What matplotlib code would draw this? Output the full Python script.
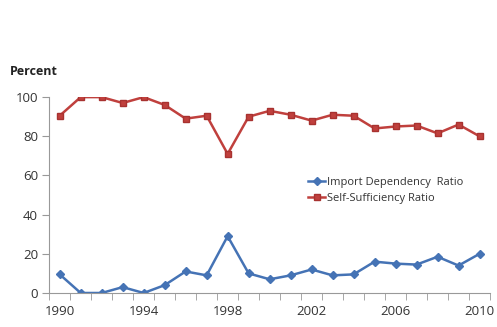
import matplotlib.pyplot as plt
import numpy as np

years = list(range(1990, 2011))
import_dependency = [9.5, 0, 0, 3, 0, 4, 11, 9, 29, 10, 7, 9, 12, 9, 9.5, 16, 15, 14.5, 18.5, 14, 20]
self_sufficiency = [90.5, 100, 100, 97, 100, 96, 89, 90.5, 71, 90, 93, 91, 88, 91, 90.5, 84, 85, 85.5, 81.5, 86, 80]
tick_years = [1990, 1994, 1998, 2002, 2006, 2010]

plt.rcParams['font.family'] = ['Open Sans', 'DejaVu Sans']

fig = plt.figure(figsize=(4.97, 3.27), dpi=100)
ax = fig.add_axes([0.099, 0.104, 0.887, 0.599])

x = np.arange(len(years))
ax.plot(x, import_dependency, color='#4573B5', marker='D', markersize=4.5, lw=1.8,
        label='Import Dependency  Ratio')
ax.plot(x, self_sufficiency, color='#C0403D', marker='s', markersize=5, lw=1.8,
        markeredgecolor='#A83230', label='Self-Sufficiency Ratio')

ax.set_xlim(-0.5, len(years) - 0.5)
ax.set_ylim(0, 100)
ax.set_yticks([0, 20, 40, 60, 80, 100])

# category labels under the points, tick marks between categories
ax.set_xticks([years.index(y) for y in tick_years])
ax.set_xticklabels([str(y) for y in tick_years])
ax.set_xticks(np.arange(-0.5, len(years)), minor=True)
ax.tick_params(axis='x', which='major', length=0, pad=9, labelsize=9.5, colors='#333333')
ax.tick_params(axis='x', which='minor', length=5, color='#999999', direction='out')
ax.tick_params(axis='y', length=5, color='#999999', labelsize=9.5, colors='#333333', pad=3)

for s in ['top', 'right']:
    ax.spines[s].set_visible(False)
for s in ['left', 'bottom']:
    ax.spines[s].set_color('#999999')
    ax.spines[s].set_linewidth(0.8)

fig.text(0.02, 0.77, 'Percent', fontsize=9, fontweight='bold', color='#222222')

ax.legend(loc='upper left', bbox_to_anchor=(0.6, 0.49), bbox_transform=fig.transFigure,
          frameon=False, fontsize=8, handlelength=1.5, handletextpad=0.2,
          labelspacing=0.45, labelcolor='#333333')

fig.savefig('out.png', dpi=100)
